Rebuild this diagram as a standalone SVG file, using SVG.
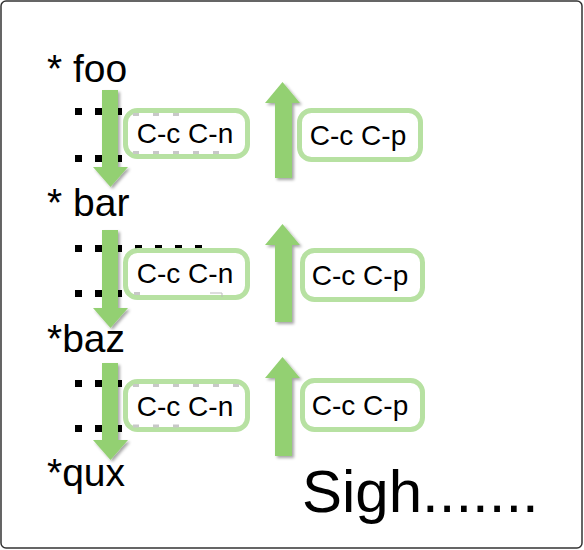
<svg xmlns="http://www.w3.org/2000/svg" width="584" height="550" viewBox="0 0 584 550">
<style>
.lbl{font-family:"Liberation Sans",Arial,sans-serif;font-size:39px;fill:#000}
.big{font-family:"Liberation Sans",Arial,sans-serif;font-size:60px;fill:#000}
.bt{font-family:"Liberation Sans",Arial,sans-serif;font-size:28px;fill:#000;text-anchor:middle}
.box{fill:#fff;stroke:#b7e1a2;stroke-width:5}
.arr{fill:#93d072;filter:url(#sh)}
.dot{stroke:#000;stroke-width:7;stroke-dasharray:7 13;fill:none}
.gd{stroke:#c8c8c8;stroke-width:3;stroke-dasharray:6 14;fill:none}
</style>
<defs>
<filter id="sh" x="-50%" y="-20%" width="200%" height="140%">
<feDropShadow dx="2" dy="2" stdDeviation="1.8" flood-color="#000" flood-opacity="0.35"/>
</filter>
</defs>
<rect x="1" y="1" width="581" height="547" rx="5" fill="#fff" stroke="#333" stroke-width="1.5"/>

<g id="dots">
<line class="dot" x1="75" y1="111.5" x2="122" y2="111.5"/>
<line class="dot" x1="75" y1="158.5" x2="122" y2="158.5"/>
<line class="dot" x1="75" y1="248.5" x2="202" y2="248.5"/>
<line class="dot" x1="75" y1="293.5" x2="122" y2="293.5"/>
<line class="dot" x1="75" y1="383.5" x2="122" y2="383.5"/>
<line class="dot" x1="75" y1="428.5" x2="122" y2="428.5"/>
</g>

<g id="labels">
<text id="foo" class="lbl" x="47" y="82">* foo</text>
<text id="bar" class="lbl" x="47" y="216">* bar</text>
<text id="baz" class="lbl" x="47" y="352">*baz</text>
<text id="qux" class="lbl" x="47" y="486">*qux</text>
<text id="sigh" class="big" x="302" y="512">Sigh.......</text>
</g>

<g id="connectors">
<path class="arr" d="M102,90 H118 V167 H128 L110.5,187 L93,167 H102 Z"/>
<path class="arr" d="M102,230 H118 V308 H128 L110.5,328 L93,308 H102 Z"/>
<path class="arr" d="M102,363 H118 V440 H128 L110.5,460 L93,440 H102 Z"/>
<path class="arr" d="M275,178 H292 V103 H300 L282.5,82 L265,103 H275 Z"/>
<path class="arr" d="M275,322 H292 V245 H300 L282.5,224 L265,245 H275 Z"/>
<path class="arr" d="M275,456 H292 V378 H300 L282.5,357 L265,378 H275 Z"/>
</g>

<g id="n1">
<rect class="box" x="125.5" y="110.5" width="122" height="46" rx="12"/>
<line class="gd" x1="133" y1="114.5" x2="180" y2="114.5"/>
<line class="gd" x1="133" y1="152.5" x2="220" y2="152.5"/>
<text class="bt" x="185" y="143">C-c C-n</text>
</g>
<g id="n2">
<rect class="box" x="125.5" y="250.5" width="122" height="47" rx="12"/>
<line class="gd" x1="134" y1="293.5" x2="140" y2="293.5"/>
<path d="M210,293 H222 V297" fill="none" stroke="#bbb" stroke-width="1"/>
<text class="bt" x="185" y="283">C-c C-n</text>
</g>
<g id="n3">
<rect class="box" x="125.5" y="381.5" width="122" height="48" rx="12"/>
<line class="gd" x1="133" y1="385.5" x2="240" y2="385.5"/>
<line class="gd" x1="133" y1="426" x2="180" y2="426"/>
<text class="bt" x="185" y="416">C-c C-n</text>
</g>
<g id="p1">
<rect class="box" x="299.5" y="110.5" width="121" height="49" rx="12"/>
<text class="bt" x="358" y="145">C-c C-p</text>
</g>
<g id="p2">
<rect class="box" x="302.5" y="250.5" width="120" height="49" rx="12"/>
<text class="bt" x="360" y="285">C-c C-p</text>
</g>
<g id="p3">
<rect class="box" x="302.5" y="380.5" width="120" height="49" rx="12"/>
<text class="bt" x="360" y="415">C-c C-p</text>
</g>
</svg>
